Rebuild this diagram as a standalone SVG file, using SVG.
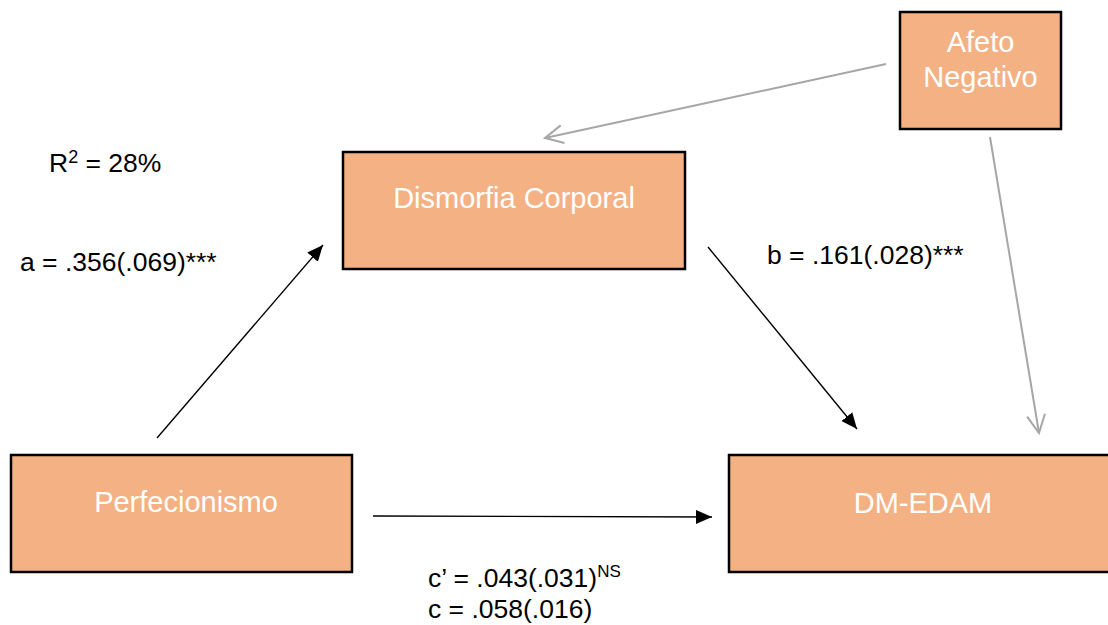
<svg xmlns="http://www.w3.org/2000/svg" width="1108" height="625" viewBox="0 0 1108 625">
  <style>
    .box { fill: #F4B183; stroke: #000; stroke-width: 2.5; }
    .lbl { font-family: "Liberation Sans", Arial, sans-serif; font-size: 29px; fill: #fff; text-anchor: middle; }
    .ann { font-family: "Liberation Sans", Arial, sans-serif; font-size: 26.5px; fill: #000; }
    .blk { stroke: #000; stroke-width: 1.4; fill: none; }
    .gry { stroke: #A6A6A6; stroke-width: 2; fill: none; }
  </style>
  <defs>
    <marker id="solid" markerUnits="userSpaceOnUse" markerWidth="18" markerHeight="16" refX="16" refY="7" orient="auto">
      <path d="M0,0 L16,7 L0,14 z" fill="#000"/>
    </marker>
    <marker id="open" markerUnits="userSpaceOnUse" markerWidth="22" markerHeight="22" refX="19" refY="10" orient="auto">
      <path d="M1,1 L19,10 L1,19" fill="none" stroke="#A6A6A6" stroke-width="2"/>
    </marker>
  </defs>
  <rect width="1108" height="625" fill="#fff"/>

  <g id="connectors">
    <line class="gry" x1="886" y1="64" x2="545" y2="138" marker-end="url(#open)"/>
    <line class="gry" x1="990" y1="137" x2="1039" y2="433" marker-end="url(#open)"/>
    <line class="blk" x1="157" y1="438" x2="323" y2="245" marker-end="url(#solid)"/>
    <line class="blk" x1="708" y1="247" x2="857" y2="429" marker-end="url(#solid)"/>
    <line class="blk" x1="373" y1="516" x2="712" y2="517" marker-end="url(#solid)"/>
  </g>

  <g id="afeto-negativo">
    <rect class="box" x="900" y="12" width="161" height="117"/>
    <text class="lbl" x="980.5" y="52">Afeto</text>
    <text class="lbl" x="980.5" y="87">Negativo</text>
  </g>
  <g id="dismorfia-corporal">
    <rect class="box" x="343" y="152" width="342" height="117"/>
    <text class="lbl" x="514" y="208">Dismorfia Corporal</text>
  </g>
  <g id="perfecionismo">
    <rect class="box" x="11" y="455" width="341" height="117"/>
    <text class="lbl" x="186" y="512">Perfecionismo</text>
  </g>
  <g id="dm-edam">
    <rect class="box" x="729" y="455" width="392" height="117"/>
    <text class="lbl" x="923" y="513">DM-EDAM</text>
  </g>

  <g id="labels">
    <text class="ann" x="49" y="172">R<tspan font-size="18" dy="-9">2</tspan><tspan dy="9"> = 28%</tspan></text>
    <text class="ann" x="20" y="271">a = .356(.069)***</text>
    <text class="ann" x="767" y="264">b = .161(.028)***</text>
    <text class="ann" x="428" y="587">c’ = .043(.031)<tspan font-size="17" dy="-10">NS</tspan></text>
    <text class="ann" x="428" y="618">c = .058(.016)</text>
  </g>
</svg>
